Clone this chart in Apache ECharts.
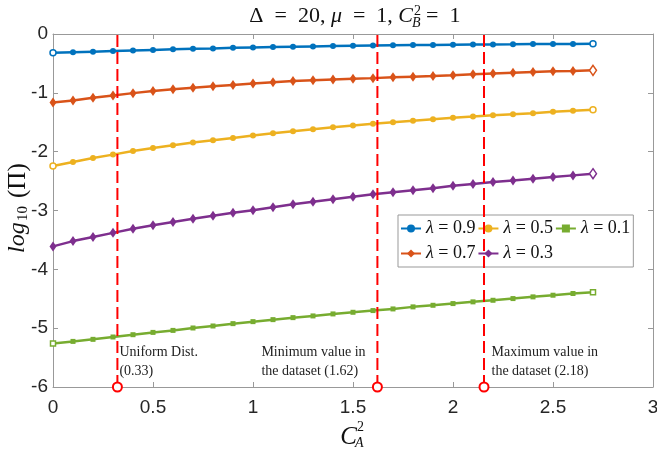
<!DOCTYPE html>
<html><head><meta charset="utf-8">
<script src="https://cdn.jsdelivr.net/npm/echarts@6/dist/echarts.min.js"></script>
<style>html,body{margin:0;padding:0;background:#fff}#c{width:657px;height:451px}</style>
</head><body><div id="c"></div>
<script>
const xs = [0,0.1,0.2,0.3,0.4,0.5,0.6,0.7,0.8,0.9,1.0,1.1,1.2,1.3,1.4,1.5,1.6,1.7,1.8,1.9,2.0,2.1,2.2,2.3,2.4,2.5,2.6,2.7];
const lam09 = [-0.32,-0.31,-0.30,-0.29,-0.28,-0.27,-0.26,-0.25,-0.245,-0.235,-0.228,-0.222,-0.216,-0.211,-0.206,-0.201,-0.197,-0.193,-0.189,-0.186,-0.183,-0.180,-0.177,-0.175,-0.172,-0.170,-0.168,-0.166];
const lam07 = [-1.165,-1.13,-1.085,-1.045,-1.005,-0.97,-0.94,-0.915,-0.89,-0.865,-0.84,-0.82,-0.80,-0.787,-0.774,-0.762,-0.75,-0.737,-0.725,-0.713,-0.70,-0.683,-0.67,-0.657,-0.645,-0.635,-0.627,-0.618];
const lam05 = [-2.244,-2.176,-2.108,-2.05,-1.99,-1.937,-1.89,-1.846,-1.806,-1.766,-1.727,-1.686,-1.652,-1.618,-1.584,-1.556,-1.527,-1.5,-1.476,-1.447,-1.425,-1.403,-1.38,-1.362,-1.345,-1.322,-1.305,-1.288];
const lam03 = [-3.61,-3.52,-3.45,-3.38,-3.31,-3.25,-3.195,-3.14,-3.09,-3.04,-2.995,-2.944,-2.893,-2.853,-2.807,-2.768,-2.722,-2.688,-2.654,-2.62,-2.58,-2.551,-2.517,-2.49,-2.46,-2.432,-2.403,-2.375];
const lam01 = [-5.259,-5.225,-5.19,-5.15,-5.111,-5.072,-5.038,-4.997,-4.963,-4.923,-4.889,-4.855,-4.821,-4.792,-4.758,-4.73,-4.701,-4.673,-4.638,-4.611,-4.582,-4.553,-4.526,-4.497,-4.468,-4.44,-4.411,-4.389];
const seriesNames = ['λ = 0.9','λ = 0.7','λ = 0.5','λ = 0.3','λ = 0.1'];
const legendOrder = ['λ = 0.9','λ = 0.5','λ = 0.1','λ = 0.7','λ = 0.3'];
const vlineX = [0.322, 1.622, 2.155];
const vlineText = ['Uniform Dist.\n(0.33)', 'Minimum value in\nthe dataset (1.62)', 'Maximum value in\nthe dataset (2.18)'];
const yBottom = -6, yTop = 0;

const colors = ['#0072BD','#D95319','#EDB120','#7E2F8E','#77AC30'];
const symbols = ['circle','diamond','circle','diamond','rect'];
const sizes = [6,[7,10],6,[7,10],5];
const allVals = [lam09, lam07, lam05, lam03, lam01];
const labelPos = [[7.5,-1],[-110.5,-1],[13,-1]];

const serif = '"Liberation Serif", "DejaVu Serif", serif';
const sans = '"Liberation Sans", Arial, sans-serif';

const series = allVals.map((vals, k) => ({
  name: seriesNames[k], type: 'line', clip: false,
  symbol: symbols[k], symbolSize: sizes[k],
  lineStyle: {color: colors[k], width: 2.5},
  itemStyle: {color: colors[k]},
  data: xs.map((x, i) => ((i === 0 && symbols[k] !== 'diamond') || i === xs.length - 1)
    ? {value: [x, vals[i]], itemStyle: {color: '#fff', borderColor: colors[k], borderWidth: 1.5}}
    : [x, vals[i]]),
  z: 3
}));
vlineX.forEach((x, k) => {
  series.push({
    type: 'line', clip: false, z: 5, silent: true,
    lineStyle: {color: '#ff0000', width: 2, type: [12, 5]},
    itemStyle: {color: '#fff', borderColor: '#ff0000', borderWidth: 2},
    data: [
      {value: [x, yBottom], symbol: 'circle', symbolSize: 9,
       label: {show: true, formatter: vlineText[k], position: labelPos[k], align: 'left', verticalAlign: 'bottom',
               fontFamily: serif, fontSize: 14, lineHeight: 19, color: '#222'}},
      {value: [x, yTop], symbol: 'none'}
    ]
  });
});

const axisGray = '#999';
const tick = {show: true, inside: true, length: 5, lineStyle: {color: axisGray}};
const line = {show: true, onZero: false, lineStyle: {color: axisGray}};
const chart = echarts.init(document.getElementById('c'));
chart.setOption({
  animation: false,
  grid: {left: 53, right: 4, top: 34, bottom: 64, outerBoundsMode: 'none', containLabel: false},
  xAxis: [
    {type: 'value', min: 0, max: 3, interval: 0.5, axisLine: line, axisTick: tick, splitLine: {show: false},
     axisLabel: {color: '#262626', fontFamily: sans, fontSize: 19, margin: 11}},
    {type: 'value', min: 0, max: 3, interval: 0.5, position: 'top', axisLine: line, axisTick: tick,
     splitLine: {show: false}, axisLabel: {show: false}}
  ],
  yAxis: [
    {type: 'value', min: -6, max: 0, interval: 1, axisLine: line, axisTick: tick, splitLine: {show: false},
     axisLabel: {color: '#262626', fontFamily: sans, fontSize: 19, margin: 5}},
    {type: 'value', min: -6, max: 0, interval: 1, position: 'right', axisLine: line, axisTick: tick,
     splitLine: {show: false}, axisLabel: {show: false}}
  ],
  legend: {
    data: legendOrder, left: 398, top: 215, width: 238, orient: 'horizontal',
    itemWidth: 20, itemHeight: 10, itemGap: 2, padding: [2, 3, 2, 2],
    borderColor: '#999', borderWidth: 1, backgroundColor: '#fff',
    formatter: n => n.replace('λ', '{i|λ}'),
    textStyle: {fontFamily: serif, fontSize: 18, color: '#111', lineHeight: 23,
      rich: {i: {fontStyle: 'italic', fontFamily: serif, fontSize: 18, color: '#111'}}}
  },
  graphic: [
    {type: 'text', x: 413, y: 16, style: {text: 'Δ\u2002=\u200220, {i|μ}\u2002=\u20021, {i|C}', align: 'right', verticalAlign: 'middle',
      fontFamily: serif, fontSize: 22, fill: '#111', rich: {i: {fontStyle: 'italic', fontFamily: serif, fontSize: 22, fill: '#111'}}}},
    {type: 'text', x: 414, y: 11, style: {text: '2', align: 'left', verticalAlign: 'middle', fontFamily: serif, fontSize: 14, fill: '#111'}},
    {type: 'text', x: 412, y: 23, style: {text: 'B', align: 'left', verticalAlign: 'middle', fontFamily: serif, fontStyle: 'italic', fontSize: 14, fill: '#111'}},
    {type: 'text', x: 426, y: 16, style: {text: '=\u20021', align: 'left', verticalAlign: 'middle', fontFamily: serif, fontSize: 22, fill: '#111'}},
    {type: 'text', x: 357, y: 437, style: {text: 'C', align: 'right', verticalAlign: 'middle', fontFamily: serif, fontStyle: 'italic', fontSize: 25, fill: '#111'}},
    {type: 'text', x: 357, y: 427, style: {text: '2', align: 'left', verticalAlign: 'middle', fontFamily: serif, fontSize: 14, fill: '#111'}},
    {type: 'text', x: 355, y: 443, style: {text: 'A', align: 'left', verticalAlign: 'middle', fontFamily: serif, fontStyle: 'italic', fontSize: 14, fill: '#111'}},
    {type: 'group', x: 18, y: 205, rotation: Math.PI / 2, children: [
      {type: 'text', x: -48, y: 0, style: {text: 'log', align: 'left', verticalAlign: 'middle', fontFamily: serif, fontStyle: 'italic', fontSize: 24, fill: '#111'}},
      {type: 'text', x: -16, y: 5, style: {text: '10', align: 'left', verticalAlign: 'middle', fontFamily: serif, fontSize: 15, fill: '#111'}},
      {type: 'text', x: 7, y: 0, style: {text: '(Π)', align: 'left', verticalAlign: 'middle', fontFamily: serif, fontSize: 25, fill: '#111'}}
    ]}
  ],
  series: series
});
</script></body></html>
